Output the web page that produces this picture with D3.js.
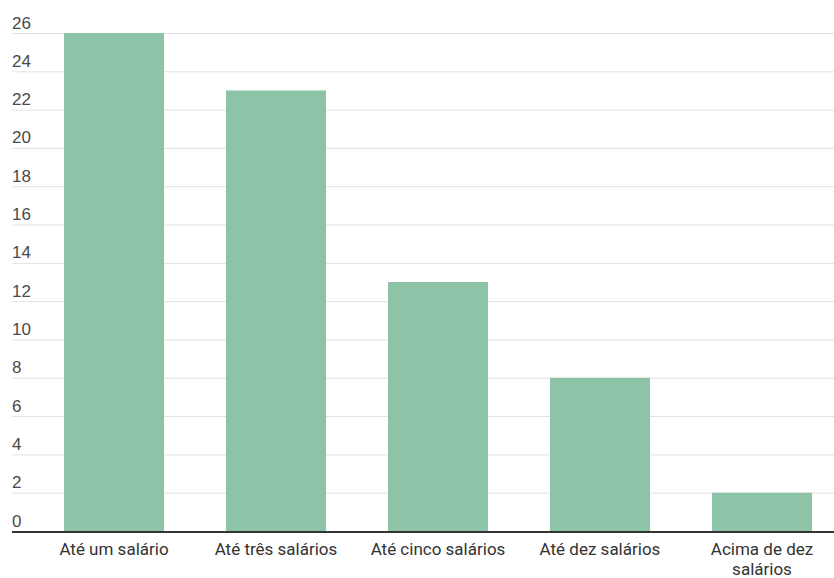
<!DOCTYPE html>
<html>
<head>
<meta charset="utf-8">
<script src="https://cdn.jsdelivr.net/npm/d3@7"></script>
<style>
  html, body { margin: 0; padding: 0; background: #fff; }
  svg { display: block; font-family: Roboto, "Noto Sans", sans-serif; }
</style>
</head>
<body>
<svg id="chart" width="834" height="578"></svg>
<script>
// Distribuição por faixa salarial
const categories = [
  ["Até um salário"],
  ["Até três salários"],
  ["Até cinco salários"],
  ["Até dez salários"],
  ["Acima de dez", "salários"]
];
const values = [26, 23, 13, 8, 2];
const yTicks = [0, 2, 4, 6, 8, 10, 12, 14, 16, 18, 20, 22, 24, 26];

const svg = d3.select("#chart");
const W = 834;
const gridLeft = 12, gridRight = W;
const baseY = 531, topY = 33;

const y = d3.scaleLinear().domain([0, 26]).range([baseY, topY]);

const pInner = 62 / 162;
const x = d3.scaleBand()
  .domain(d3.range(categories.length))
  .range([33, 843])
  .paddingInner(pInner)
  .paddingOuter(pInner / 2);

// horizontal grid with labels sitting above each line
const yAxis = d3.axisLeft(y).tickValues(yTicks).tickSize(-(gridRight - gridLeft)).tickFormat(d3.format("d"));
const gy = svg.append("g").attr("transform", `translate(${gridLeft},0)`).call(yAxis);
gy.select(".domain").remove();
gy.selectAll(".tick line").attr("stroke", "#e2e2e2").attr("stroke-width", 1);
gy.selectAll(".tick text")
  .attr("x", 0).attr("dy", "-5")
  .attr("text-anchor", "start")
  .attr("fill", "#4a4a4a")
  .style("font-size", "17px");
gy.selectAll(".tick").filter(d => d === 0).select("line").remove();

// bars
svg.append("g").selectAll("rect")
  .data(values)
  .join("rect")
  .attr("x", (d, i) => x(i))
  .attr("width", x.bandwidth())
  .attr("y", d => y(d))
  .attr("height", d => y(0) - y(d))
  .attr("fill", "#8dc3a7");

// baseline
svg.append("line")
  .attr("x1", gridLeft).attr("x2", gridRight)
  .attr("y1", y(0) + 1).attr("y2", y(0) + 1)
  .attr("stroke", "#333").attr("stroke-width", 2);

// category labels
const xl = svg.append("g").selectAll("text")
  .data(categories)
  .join("text")
  .attr("x", (d, i) => x(i) + x.bandwidth() / 2)
  .attr("y", baseY + 24)
  .attr("text-anchor", "middle")
  .attr("fill", "#333")
  .style("font-size", "17px");
xl.selectAll("tspan")
  .data(d => d)
  .join("tspan")
  .attr("x", function () { return this.parentNode.getAttribute("x"); })
  .attr("dy", (d, i) => i === 0 ? 0 : 20)
  .text(d => d);
</script>
</body>
</html>
